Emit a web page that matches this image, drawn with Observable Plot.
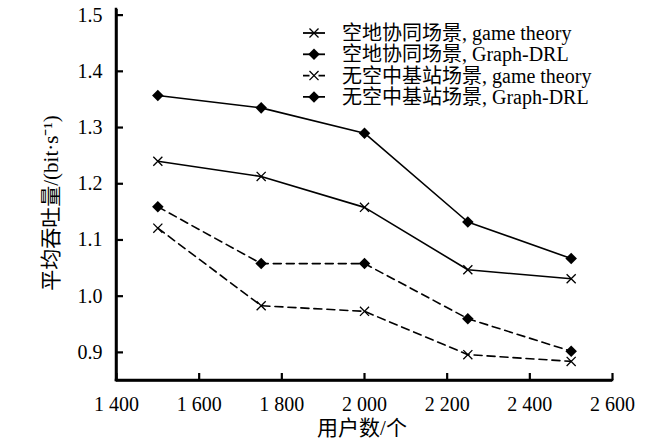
<!DOCTYPE html>
<html><head><meta charset="utf-8">
<script src="https://cdn.jsdelivr.net/npm/d3@7"></script>
<script src="https://cdn.jsdelivr.net/npm/@observablehq/plot@0.6"></script>
<style>
body{margin:0;background:#fff}
#chart svg{font-family:"Liberation Serif","Noto Sans CJK SC",serif;background:#fff}
</style>
</head><body><div id="chart"></div>
<script>
// ---- data ----
const users = [1500, 1750, 2000, 2250, 2500];
const coopGame = [1.240, 1.213, 1.158, 1.047, 1.031];
const coopDRL = [1.357, 1.335, 1.290, 1.132, 1.067];
const noAirGame = [1.121, 0.983, 0.973, 0.896, 0.884];
const noAirDRL = [1.159, 1.058, 1.058, 0.960, 0.902];
const seriesNames = ["空地协同场景, game theory", "空地协同场景, Graph-DRL", "无空中基站场景, game theory", "无空中基站场景, Graph-DRL"];
const xTicks = [1400, 1600, 1800, 2000, 2200, 2400, 2600];
const yTicks = [0.9, 1.0, 1.1, 1.2, 1.3, 1.4, 1.5];
const xDomain = [1400, 2600];
const yDomain = [0.85, 1.51];
const xLabel = "用户数/个";
const yLabel = "平均吞吐量/(bit·s⁻¹)";

// ---- styles ----
const W = 660, H = 448, mL = 116, mR = 48, mT = 9, mB = 68, tick = 7;
const styles = [
  {dash: null, sym: "times"},
  {dash: null, sym: "diamond"},
  {dash: "8,5", sym: "times"},
  {dash: "8,5", sym: "diamond"}
];
const allVals = [coopGame, coopDRL, noAirGame, noAirDRL];
const rows = [];
allVals.forEach((vals, i) => vals.forEach((v, j) => rows.push({s: i, x: users[j], y: v})));

const marks = [];
styles.forEach((st, i) => {
  const d = rows.filter(r => r.s === i);
  marks.push(Plot.line(d, {x: "x", y: "y", stroke: "black", strokeWidth: 1.6, strokeDasharray: st.dash}));
  if (st.sym === "times") {
    marks.push(Plot.dot(d, {x: "x", y: "y", symbol: "times", r: 4.2, stroke: "black", strokeWidth: 1.3, fill: "none"}));
  } else {
    marks.push(Plot.dot(d, {x: "x", y: "y", symbol: "square", r: 4.6, fill: "black", stroke: "none", rotate: 45}));
  }
});

const fmtX = d => d3.format(",")(d).replace(/,/g, " ");
const plot = Plot.plot({
  width: W, height: H,
  marginLeft: mL, marginRight: mR, marginTop: mT, marginBottom: mB,
  style: {fontFamily: '"Liberation Serif","Noto Sans CJK SC",serif', fontSize: "20px", color: "black", background: "white"},
  x: {domain: xDomain},
  y: {domain: yDomain},
  marks: [
    Plot.axisX({ticks: xTicks, tickFormat: fmtX, tickSize: 0, tickPadding: 16, label: null, fontSize: 20}),
    Plot.axisY({ticks: yTicks, tickFormat: d3.format(".1f"), tickSize: 0, tickPadding: 14, label: null, fontSize: 20}),
    Plot.tickX(xTicks, {x: d => d, stroke: "black", strokeWidth: 2.2, insetTop: H - mT - mB - tick}),
    Plot.tickY(yTicks, {y: d => d, stroke: "black", strokeWidth: 2.2, insetRight: W - mL - mR - tick}),
    Plot.ruleY([yDomain[0]], {x1: xDomain[0], x2: xDomain[1], stroke: "black", strokeWidth: 2.5}),
    Plot.ruleX([xDomain[0]], {y1: yDomain[0], y2: yDomain[1], stroke: "black", strokeWidth: 2.5}),
    ...marks
  ]
});
document.getElementById("chart").appendChild(plot);

// ---- axis lines (drawn on top through the plot's own scales) ----
const svg = d3.select(plot);
const sx = plot.scale("x"), sy = plot.scale("y");
const ag = svg.append("g").attr("stroke", "black").attr("stroke-width", 2.5).attr("stroke-linecap", "square");
ag.append("line").attr("x1", sx.apply(xDomain[0])).attr("x2", sx.apply(xDomain[1]))
  .attr("y1", sy.apply(yDomain[0])).attr("y2", sy.apply(yDomain[0]));
ag.append("line").attr("x1", sx.apply(xDomain[0])).attr("x2", sx.apply(xDomain[0]))
  .attr("y1", sy.apply(yDomain[0])).attr("y2", sy.apply(yDomain[1]));

// ---- axis titles and legend ----
svg.append("text").attr("x", 362).attr("y", 428).attr("text-anchor", "middle")
  .attr("dominant-baseline", "central").attr("font-size", 21).attr("fill", "black").text(xLabel);
svg.append("text").attr("transform", "translate(51,203) rotate(-90)").attr("text-anchor", "middle")
  .attr("dominant-baseline", "central").attr("font-size", 21).attr("fill", "black").text(yLabel);

const lg = svg.append("g");
seriesNames.forEach((name, i) => {
  const y = 33 + i * 21.3;
  const st = styles[i];
  lg.append("line").attr("x1", 303).attr("x2", 325).attr("y1", y).attr("y2", y)
    .attr("stroke", "black").attr("stroke-width", 1.8).attr("stroke-dasharray", st.dash ? "6.5,9" : null);
  if (st.sym === "times") {
    lg.append("path").attr("d", d3.symbol(d3.symbolTimes, 55)()).attr("transform", `translate(314,${y})`)
      .attr("stroke", "black").attr("stroke-width", 1.3).attr("fill", "none");
  } else {
    lg.append("path").attr("d", d3.symbol(d3.symbolSquare, 66)()).attr("transform", `translate(314,${y}) rotate(45)`)
      .attr("fill", "black");
  }
  lg.append("text").attr("x", 342).attr("y", y).attr("text-anchor", "start").attr("dominant-baseline", "central")
    .attr("font-size", 20).attr("fill", "black").text(name);
});
</script>
</body></html>
